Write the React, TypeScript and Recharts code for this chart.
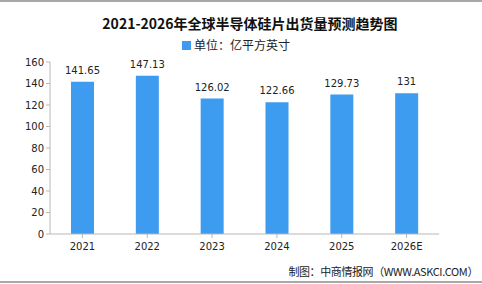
import React from 'react';
import { BarChart, Bar, XAxis, YAxis, LabelList } from 'recharts';

const years = ['2021', '2022', '2023', '2024', '2025', '2026E'];
const shipments = [141.65, 147.13, 126.02, 122.66, 129.73, 131];
const yTicks = [0, 20, 40, 60, 80, 100, 120, 140, 160];

const BAR_COLOR = '#3d9bf0';
const AXIS_COLOR = '#b8b8b8';
const TICK_FONT = '"DejaVu Sans", "Noto Sans CJK SC", sans-serif';
const CJK_FONT = '"Noto Sans CJK SC", sans-serif';

export default function App() {
    const data = years.map((year, i) => ({ year, value: shipments[i] }));

    return (
        <div style={{ position: 'absolute', left: 0, top: 0, width: 482, height: 284, background: '#fff', overflow: 'hidden' }}>
            <div style={{ position: 'absolute', left: 0, top: 0, width: 482, height: 2, background: '#a8a8a8' }} />
            <div
                style={{
                    position: 'absolute', left: 0, width: 500, top: 14, textAlign: 'center',
                    fontFamily: CJK_FONT, fontWeight: 700, fontSize: 14, color: '#111', lineHeight: '18px',
                }}
            >
                2021-2026年全球半导体硅片出货量预测趋势图
            </div>
            <div
                style={{
                    position: 'absolute', left: 0, width: 472, top: 37, display: 'flex', justifyContent: 'center',
                    alignItems: 'center', fontFamily: CJK_FONT, fontSize: 12, color: '#222', lineHeight: '16px',
                }}
            >
                <span style={{ display: 'inline-block', width: 9, height: 9, background: BAR_COLOR, marginRight: 3 }} />
                单位：亿平方英寸
            </div>

            <BarChart width={482} height={284} data={data} margin={{ top: 62, right: 43, bottom: 20, left: 0 }}>
                <XAxis
                    dataKey="year"
                    height={30}
                    stroke={AXIS_COLOR}
                    tickLine={{ stroke: AXIS_COLOR }}
                    tickSize={4}
                    tick={{ fill: '#222', fontSize: 10, fontFamily: TICK_FONT }}
                    tickMargin={5}
                    interval={0}
                />
                <YAxis
                    width={50}
                    domain={[0, 160]}
                    ticks={yTicks}
                    stroke={AXIS_COLOR}
                    tickLine={{ stroke: AXIS_COLOR }}
                    tickSize={4}
                    tickMargin={2}
                    tick={{ fill: '#222', fontSize: 10, fontFamily: TICK_FONT }}
                    interval={0}
                />
                <Bar dataKey="value" fill={BAR_COLOR} barSize={23} isAnimationActive={false}>
                    <LabelList
                        dataKey="value"
                        position="top"
                        offset={8}
                        style={{ fill: '#222', fontSize: 10, fontFamily: TICK_FONT }}
                    />
                </Bar>
            </BarChart>

            <div
                style={{
                    position: 'absolute', right: 4, top: 264, fontFamily: CJK_FONT, fontSize: 11,
                    letterSpacing: -0.4, color: '#222', lineHeight: '15px',
                }}
            >
                制图：中商情报网（WWW.ASKCI.COM）
            </div>
            <div style={{ position: 'absolute', left: 0, top: 281, width: 482, height: 2, background: '#a8a8a8' }} />
        </div>
    );
}
